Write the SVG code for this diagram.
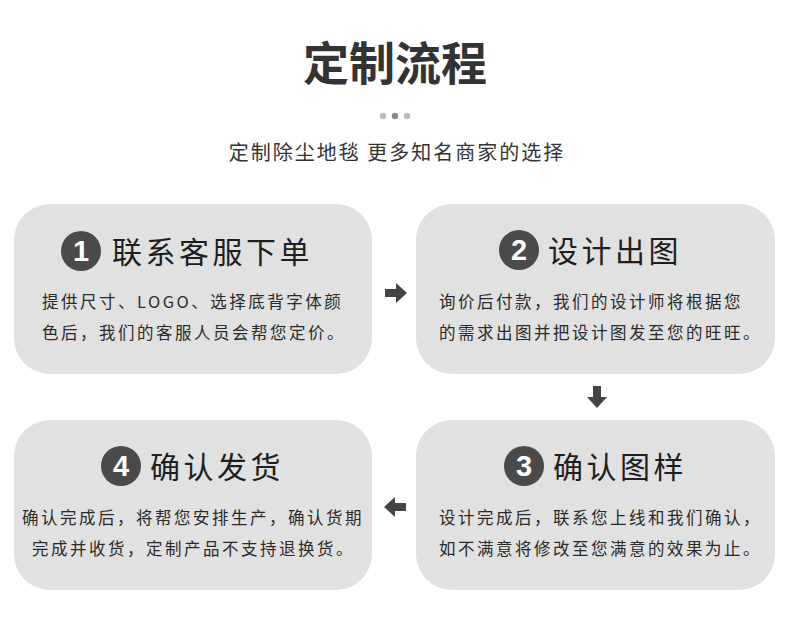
<svg xmlns="http://www.w3.org/2000/svg" width="790" height="624" viewBox="0 0 790 624">
<style>
.box{fill:#e1e1e1}
.num{fill:#4a4a4a}
.numt{fill:#fff;font-family:"Liberation Sans",Arial,sans-serif;font-weight:bold;font-size:29px;text-anchor:middle}
.ttl{fill:#1e1e1e;font-family:"Noto Sans CJK SC",sans-serif;font-size:30px;letter-spacing:3.5px}
.body{fill:#2a2a2a;font-family:"Noto Sans CJK SC",sans-serif;font-size:16.5px;letter-spacing:2.5px}
.arr{fill:#444}
</style>
<rect width="790" height="624" fill="#fff"/>
<g id="header">
<text x="395" y="80" text-anchor="middle" font-family="Noto Sans CJK SC,sans-serif" font-weight="600" font-size="46" fill="#333">定制流程</text>
<circle cx="383" cy="116" r="3.2" fill="#bbb"/>
<circle cx="395" cy="116" r="3.2" fill="#888"/>
<circle cx="407" cy="116" r="3.2" fill="#bbb"/>
<text x="397" y="160" text-anchor="middle" font-family="Noto Sans CJK SC,sans-serif" font-size="20" letter-spacing="2" fill="#333">定制除尘地毯 更多知名商家的选择</text>
</g>
<g id="step1">
<rect class="box" x="14" y="204" width="358" height="170" rx="36"/>
<circle class="num" cx="81" cy="251" r="20"/>
<text class="numt" x="81" y="261">1</text>
<text class="ttl" x="112" y="263">联系客服下单</text>
<text class="body" x="42" y="308">提供尺寸、LOGO、选择底背字体颜</text>
<text class="body" x="42" y="339">色后，我们的客服人员会帮您定价。</text>
</g>
<g id="step2">
<rect class="box" x="416" y="204" width="359" height="170" rx="36"/>
<circle class="num" cx="519" cy="250" r="20"/>
<text class="numt" x="519" y="260">2</text>
<text class="ttl" x="548" y="262">设计出图</text>
<text class="body" x="439" y="308">询价后付款，我们的设计师将根据您</text>
<text class="body" x="439" y="339">的需求出图并把设计图发至您的旺旺。</text>
</g>
<g id="step3">
<rect class="box" x="416" y="420" width="359" height="170" rx="36"/>
<circle class="num" cx="524" cy="466" r="20"/>
<text class="numt" x="524" y="476">3</text>
<text class="ttl" x="553" y="478">确认图样</text>
<text class="body" x="439" y="524">设计完成后，联系您上线和我们确认，</text>
<text class="body" x="439" y="555">如不满意将修改至您满意的效果为止。</text>
</g>
<g id="step4">
<rect class="box" x="14" y="420" width="358" height="170" rx="36"/>
<circle class="num" cx="121" cy="466" r="20"/>
<text class="numt" x="121" y="476">4</text>
<text class="ttl" x="150" y="478">确认发货</text>
<text class="body" x="22" y="524">确认完成后，将帮您安排生产，确认货期</text>
<text class="body" x="32" y="555">完成并收货，定制产品不支持退换货。</text>
</g>
<g id="connectors">
<path class="arr" d="M385,289 H396 V283 L407,293 L396,303 V297 H385 Z"/>
<path class="arr" d="M593,386 V397 H587 L597,408 L607,397 H601 V386 Z"/>
<path class="arr" d="M406,503 H395 V497 L384,507 L395,517 V511 H406 Z"/>
</g>
</svg>
